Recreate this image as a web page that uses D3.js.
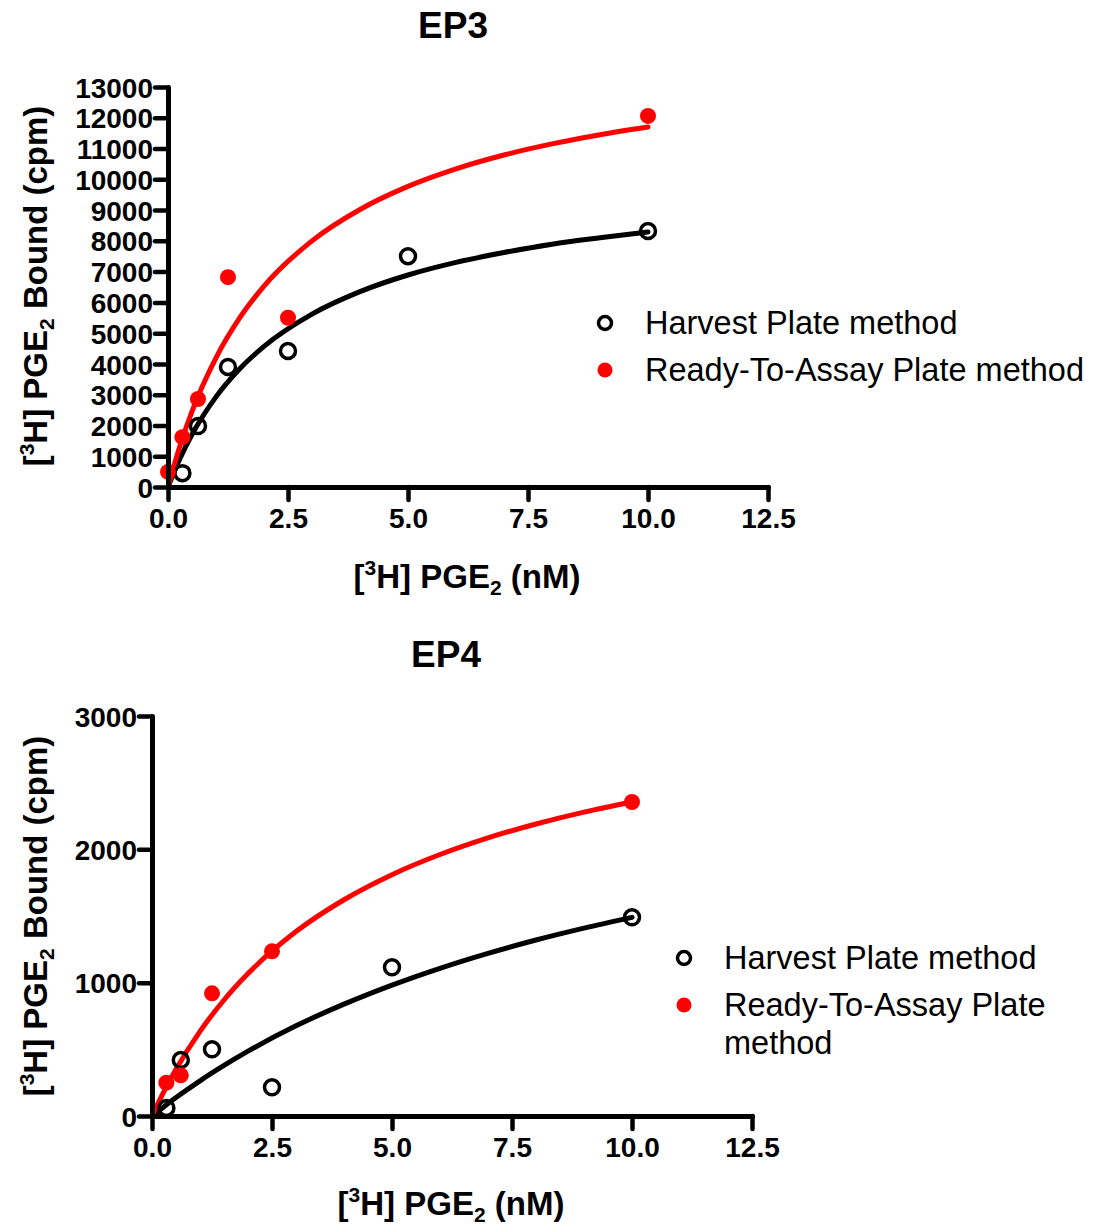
<!DOCTYPE html>
<html>
<head>
<meta charset="utf-8">
<script src="https://cdn.jsdelivr.net/npm/d3@7"></script>
<style>
  body { margin: 0; background: #fff; }
  svg { font-family: "Liberation Sans", Arial, sans-serif; }
</style>
</head>
<body>
<svg id="chart"></svg>
<script>
// EP3 data points
const ep3HarvestX = [0.3, 0.625, 1.25, 2.5, 5, 10];
const ep3HarvestY = [450, 1980, 3900, 4420, 7500, 8320];
const ep3ReadyX = [0, 0.3, 0.625, 1.25, 2.5, 10];
const ep3ReadyY = [490, 1620, 2860, 6820, 5500, 12060];

// EP4 data points
const ep4HarvestX = [0.3, 0.6, 1.25, 2.5, 5, 10];
const ep4HarvestY = [60, 420, 500, 215, 1115, 1490];
const ep4ReadyX = [0.3, 0.6, 1.25, 2.5, 10];
const ep4ReadyY = [250, 305, 920, 1235, 2355];

// fitted curves
const curveX = [0, 0.25, 0.5, 1, 1.5, 2, 3, 4, 5, 6, 7, 8, 9, 10];
const ep3HarvestFit = [0, 930, 1705, 2930, 3850, 4570, 5620, 6350, 6890, 7300, 7620, 7890, 8100, 8290];
const ep3ReadyFit = [0, 1340, 2460, 4200, 5510, 6530, 8000, 9020, 9770, 10340, 10790, 11150, 11450, 11700];
const ep4HarvestFit = [0, 70, 138, 264, 379, 486, 676, 839, 982, 1108, 1220, 1320, 1409, 1490];
const ep4ReadyFit = [0, 185, 350, 635, 870, 1068, 1383, 1622, 1810, 1961, 2086, 2190, 2279, 2355];

const xTicks = [0, 2.5, 5, 7.5, 10, 12.5];
const ep3YTicks = d3.range(0, 13001, 1000);
const ep4YTicks = [0, 1000, 2000, 3000];
const legendLabels = ["Harvest Plate method", "Ready-To-Assay Plate method"];

const width = 1102, height = 1226;
const svg = d3.select("#chart").attr("width", width).attr("height", height);

const zip = (xs, ys) => xs.map((x, i) => ({ x, y: ys[i] }));

// "[3H] PGE2" style label with super/subscript
function pgeLabel(sel, tail) {
  sel.append("tspan").text("[");
  sel.append("tspan").attr("font-size", 21).attr("dy", -13).text("3");
  sel.append("tspan").attr("dy", 13).text("H] PGE");
  sel.append("tspan").attr("font-size", 21).attr("dy", 7).text("2");
  sel.append("tspan").attr("dy", -7).text(tail);
}

function drawPanel(p) {
  const x = d3.scaleLinear().domain([0, 12.5]).range([p.left, p.left + 600]);
  const y = d3.scaleLinear().domain([0, p.yMax]).range([p.bottom, p.bottom - 400]);

  const g = svg.append("g");

  // title
  g.append("text")
    .attr("x", p.titleX).attr("y", p.bottom - 449)
    .attr("text-anchor", "middle")
    .attr("font-size", 37).attr("font-weight", "bold")
    .text(p.title);

  // axis titles
  const xt = g.append("text")
    .attr("x", p.xTitleX).attr("y", p.bottom + p.xTitleDy)
    .attr("text-anchor", "middle")
    .attr("font-size", 33).attr("font-weight", "bold");
  pgeLabel(xt, " (nM)");

  const yt = g.append("text")
    .attr("transform", `translate(${p.yTitleX}, ${p.yTitleY}) rotate(-90)`)
    .attr("text-anchor", "middle")
    .attr("font-size", 33).attr("font-weight", "bold");
  pgeLabel(yt, " Bound (cpm)");

  // fitted curves
  const line = d3.line()
    .x(d => x(d.x))
    .y(d => y(d.y))
    .curve(d3.curveMonotoneX);

  g.append("path").datum(zip(curveX, p.harvestFit))
    .attr("fill", "none").attr("stroke", "#000").attr("stroke-width", 5)
    .attr("stroke-linecap", "round").attr("d", line);
  g.append("path").datum(zip(curveX, p.readyFit))
    .attr("fill", "none").attr("stroke", "#ff0000").attr("stroke-width", 5)
    .attr("stroke-linecap", "round").attr("d", line);

  // points
  g.append("g").selectAll("circle")
    .data(zip(p.harvestX, p.harvestY))
    .join("circle")
    .attr("cx", d => x(d.x)).attr("cy", d => y(d.y)).attr("r", 7.5)
    .attr("fill", "none").attr("stroke", "#000").attr("stroke-width", 3.5);
  g.append("g").selectAll("circle")
    .data(zip(p.readyX, p.readyY))
    .join("circle")
    .attr("cx", d => x(d.x)).attr("cy", d => y(d.y)).attr("r", 8)
    .attr("fill", "#ff0000");

  // axes
  const xAxis = g.append("g")
    .attr("transform", `translate(0, ${p.bottom})`)
    .call(d3.axisBottom(x).tickValues(xTicks).tickFormat(d3.format(".1f")).tickSize(13).tickSizeOuter(0).tickPadding(8));
  const yAxis = g.append("g")
    .attr("transform", `translate(${p.left}, 0)`)
    .call(d3.axisLeft(y).tickValues(p.yTicks).tickFormat(d3.format("d")).tickSize(13).tickSizeOuter(0).tickPadding(2));

  [xAxis, yAxis].forEach(a => {
    a.select(".domain").attr("stroke-width", 5).attr("stroke-linecap", "round");
    a.selectAll(".tick line").attr("stroke-width", 4.5).attr("stroke-linecap", "round");
    a.selectAll(".tick text")
      .attr("font-size", 28).attr("font-weight", "bold").attr("fill", "#000")
      .attr("font-family", "Liberation Sans, Arial, sans-serif");
  });
  yAxis.selectAll(".tick text").attr("dy", "0.36em");

  // legend
  const lg = g.append("g").attr("font-size", 32.5);
  lg.append("circle").attr("cx", p.legX).attr("cy", p.legY).attr("r", 6.5)
    .attr("fill", "none").attr("stroke", "#000").attr("stroke-width", 3.5);
  lg.append("circle").attr("cx", p.legX).attr("cy", p.legY + 47).attr("r", 7.5)
    .attr("fill", "#ff0000");
  lg.append("text").attr("x", p.legX + 40).attr("y", p.legY + 11).text(legendLabels[0]);
  const t2 = lg.append("text").attr("x", p.legX + 40).attr("y", p.legY + 58);
  p.readyLines.forEach((s, i) => {
    t2.append("tspan").attr("x", p.legX + 40).attr("dy", i === 0 ? 0 : 38).text(s);
  });
}

drawPanel({
  title: "EP3", titleX: 453, left: 168, bottom: 487, yMax: 13000, yTicks: ep3YTicks,
  xTitleX: 467, xTitleDy: 101, yTitleX: 47, yTitleY: 286,
  harvestX: ep3HarvestX, harvestY: ep3HarvestY, readyX: ep3ReadyX, readyY: ep3ReadyY,
  harvestFit: ep3HarvestFit, readyFit: ep3ReadyFit,
  legX: 605, legY: 323, readyLines: [legendLabels[1]]
});

drawPanel({
  title: "EP4", titleX: 446, left: 152, bottom: 1116, yMax: 3000, yTicks: ep4YTicks,
  xTitleX: 451, xTitleDy: 99, yTitleX: 47, yTitleY: 916,
  harvestX: ep4HarvestX, harvestY: ep4HarvestY, readyX: ep4ReadyX, readyY: ep4ReadyY,
  harvestFit: ep4HarvestFit, readyFit: ep4ReadyFit,
  legX: 684, legY: 958, readyLines: ["Ready-To-Assay Plate", "method"]
});
</script>
</body>
</html>
